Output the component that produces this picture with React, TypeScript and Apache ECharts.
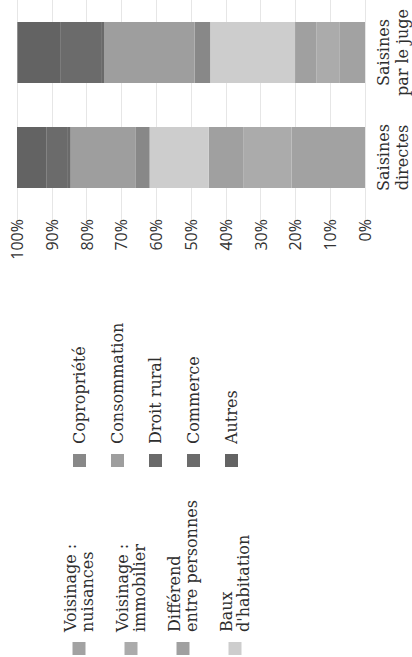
import React, { useEffect, useRef } from "react";
import * as echarts from "echarts";

// Categories (x axis of the upright chart)
const categories = ["Saisines\ndirectes", "Saisines\npar le juge"];

// Series names (legend order, stacked from 0% upward)
const seriesNames = [
  "Voisinage : nuisances",
  "Voisinage : immobilier",
  "Différend entre personnes",
  "Baux d'habitation",
  "Copropriété",
  "Consommation",
  "Droit rural",
  "Commerce",
  "Autres",
];

// Legend labels as printed (two lines where needed)
const legendLabels = [
  "Voisinage :\nnuisances",
  "Voisinage :\nimmobilier",
  "Différend\nentre personnes",
  "Baux\nd'habitation",
  "Copropriété",
  "Consommation",
  "Droit rural",
  "Commerce",
  "Autres",
];

// Values in % : [Saisines directes, Saisines par le juge]
const voisinageNuisances = [21.1, 7.4];
const voisinageImmobilier = [13.9, 6.5];
const differendPersonnes = [9.9, 6.2];
const bauxHabitation = [17.0, 24.4];
const copropriete = [4.1, 4.5];
const consommation = [18.6, 26.0];
const droitRural = [1.0, 0.6];
const commerce = [6.0, 12.0];
const autres = [8.4, 12.3];

const seriesValues = [
  voisinageNuisances,
  voisinageImmobilier,
  differendPersonnes,
  bauxHabitation,
  copropriete,
  consommation,
  droitRural,
  commerce,
  autres,
];

const seriesColors = [
  "#a2a2a2",
  "#ababab",
  "#a0a0a0",
  "#cdcdcd",
  "#888888",
  "#9e9e9e",
  "#6a6a6a",
  "#6b6b6b",
  "#636363",
];

// Y axis ticks
const yMin = 0;
const yMax = 100;
const yInterval = 10;

export default function App() {
  const ref = useRef<HTMLDivElement>(null);

  useEffect(() => {
    if (!ref.current) return;
    const chart = echarts.init(ref.current, null, { renderer: "svg" });
    const labelMap: Record<string, string> = {};
    seriesNames.forEach((n, i) => (labelMap[n] = legendLabels[i]));

    const legendText = {
      fontFamily: "DejaVu Serif",
      fontSize: 16,
      lineHeight: 17,
      color: "#2e2e2e",
      padding: [0, 0, 0, 5],
    };

    chart.setOption({
      animation: false,
      backgroundColor: "#ffffff",
      grid: { left: 447, right: -11, top: 17, bottom: 47, containLabel: false },
      legend: [
        {
          data: seriesNames.slice(0, 4),
          orient: "vertical",
          left: 2,
          top: 62,
          padding: 0,
          itemWidth: 13,
          itemHeight: 13,
          itemGap: 18,
          icon: "rect",
          selectedMode: false,
          formatter: (n: string) => labelMap[n],
          textStyle: legendText,
        },
        {
          data: seriesNames.slice(4),
          orient: "vertical",
          left: 190,
          top: 71,
          padding: 0,
          itemWidth: 13,
          itemHeight: 13,
          itemGap: 21,
          icon: "rect",
          selectedMode: false,
          formatter: (n: string) => labelMap[n],
          textStyle: legendText,
        },
      ],
      xAxis: {
        type: "category",
        data: categories,
        axisLine: { show: false },
        axisTick: { show: false },
        axisLabel: {
          interval: 0,
          hideOverlap: false,
          margin: 9,
          fontFamily: "DejaVu Serif",
          fontSize: 16,
          lineHeight: 19,
          color: "#2e2e2e",
        },
      },
      yAxis: {
        type: "value",
        min: yMin,
        max: yMax,
        interval: yInterval,
        axisLine: { show: false },
        axisTick: { show: true, length: 10, lineStyle: { color: "#e6e6e6" } },
        splitLine: { show: true, lineStyle: { color: "#e6e6e6", width: 1 } },
        axisLabel: {
          margin: 9,
          formatter: "{value}%",
          fontFamily: "Open Sans",
          fontSize: 16,
          color: "#333333",
        },
      },
      series: seriesNames.map((name, i) => ({
        name,
        type: "bar",
        stack: "total",
        barWidth: 61,
        data: seriesValues[i],
        itemStyle: { color: seriesColors[i] },
        emphasis: { disabled: true },
      })),
    });

    return () => chart.dispose();
  }, []);

  return (
    <div
      style={{
        position: "fixed",
        left: 0,
        top: 0,
        width: 412,
        height: 657,
        overflow: "hidden",
        background: "#ffffff",
      }}
    >
      <div
        ref={ref}
        style={{
          position: "absolute",
          left: 0,
          top: 0,
          width: 657,
          height: 412,
          transformOrigin: "0 0",
          transform: "translate(0px, 657px) rotate(-90deg)",
        }}
      />
    </div>
  );
}
